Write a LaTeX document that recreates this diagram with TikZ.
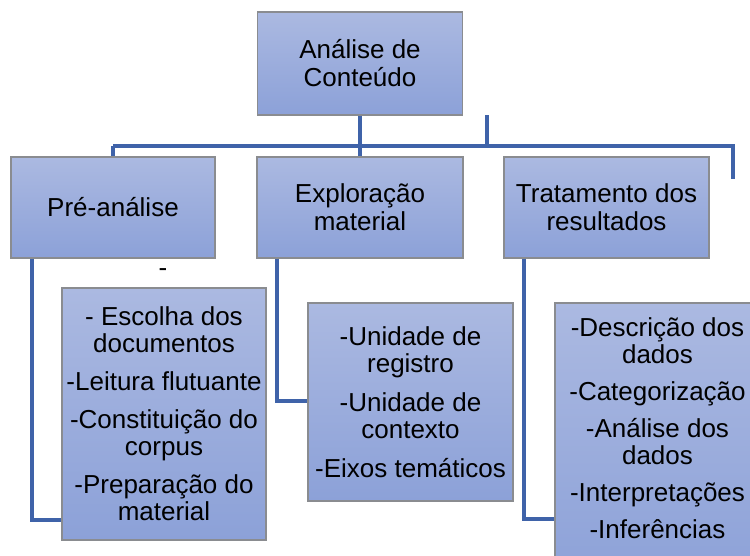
\documentclass[tikz,border=0pt]{standalone}
\usepackage{fontspec}
\setmainfont{Liberation Sans}
\usepackage{xcolor}
\definecolor{boxtop}{HTML}{ABB9E1}
\definecolor{boxbot}{HTML}{8CA1D8}
\definecolor{boxedge}{HTML}{8A8C90}
\definecolor{linkc}{HTML}{3F63A9}

\begin{document}
\begin{tikzpicture}[x=1pt, y=-1pt]
  \tikzset{
    box/.style={rectangle, draw=boxedge, line width=1.2pt, top color=boxtop, bottom color=boxbot,
      align=center, inner sep=0pt, font=\fontsize{26}{28}\selectfont},
    list/.style={box, font=\fontsize{26}{27}\selectfont},
    link/.style={draw=linkc, line width=3.2pt}
  }
  \useasboundingbox (0,0) rectangle (750,555);
  \clip (0,0) rectangle (750,555);

  % top level
  \node[box, minimum width=205, minimum height=103] (root) at (360,63.5) {Análise de\\Conteúdo};

  % second level
  \node[box, minimum width=204, minimum height=101] (pre)  at (113,207.5) {Pré-análise};
  \node[box, minimum width=206, minimum height=101] (expl) at (360,207.5) {Exploração\\material};
  \node[box, minimum width=205, minimum height=101] (trat) at (606.5,207.5) {Tratamento dos\\resultados};

  % lists
  \node[list, minimum width=204, minimum height=252] (prelist) at (164,414)
    {- Escolha dos\\documentos\\[11pt]-Leitura flutuante\\[11pt]-Constituição do\\corpus\\[11pt]-Preparação do\\material};
  \node[list, minimum width=205, minimum height=198] (expllist) at (410.5,402)
    {-Unidade de\\registro\\[12pt]-Unidade de\\contexto\\[12pt]-Eixos temáticos};
  \node[list, minimum width=205, minimum height=284] (tratlist) at (657.5,445)
    {-Descrição dos\\dados\\[10pt]-Categorização\\[10pt]-Análise dos\\dados\\[10pt]-Interpretações\\[10pt]-Inferências\\[6pt]\mbox{}};
  \node[font=\fontsize{26}{28}\selectfont] (dash) at (163,273) {-};

  % bus from the root
  \coordinate (busl) at (113,146);
  \coordinate (busr) at (733,146);
  \coordinate (busend) at (733,179);
  \coordinate (stub) at (487,115);
  \draw[link] (root.south) -- (root.south |- busl);
  \draw[link] (busl) -- (busr) -- (busend);
  \draw[link] (stub) -- (stub |- busl);
  \draw[link] (busl) -- (pre.north);
  \draw[link] (expl.north |- busl) -- (expl.north);

  % elbows down to the lists
  \draw[link] ([xshift=-81]pre.south) |- (prelist.west |- 0,520);
  \draw[link] ([xshift=-83]expl.south) |- (expllist.west |- 0,401);
  \draw[link] ([xshift=-82.5]trat.south) |- (tratlist.west |- 0,519);
\end{tikzpicture}
\end{document}
